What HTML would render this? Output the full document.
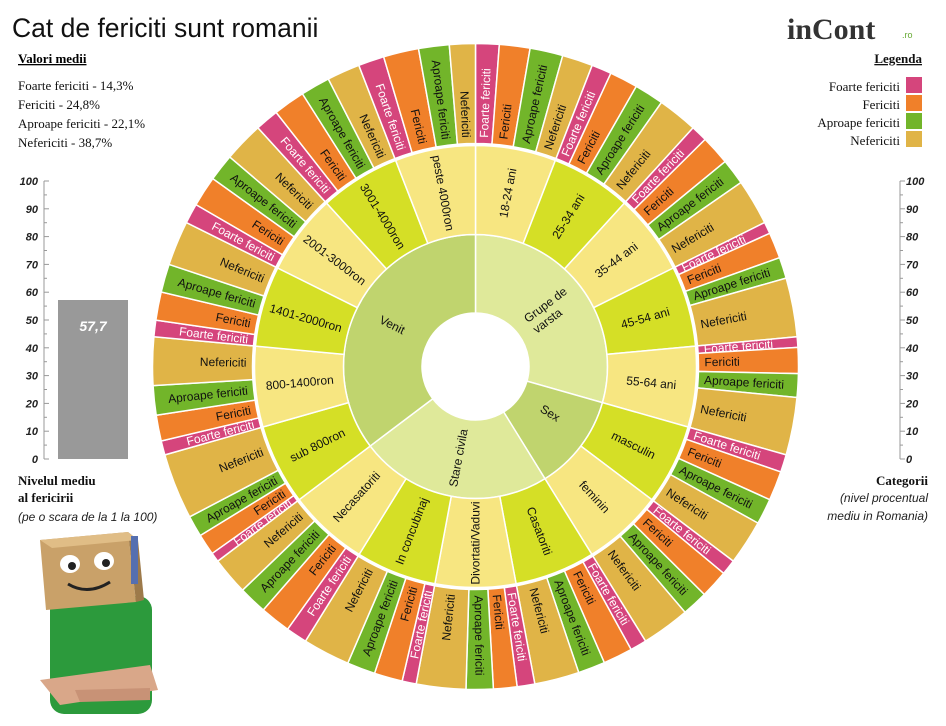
<!DOCTYPE html>
<html><head><meta charset="utf-8">
<style>
body{margin:0;background:#fff;width:946px;height:721px;overflow:hidden;font-family:"Liberation Serif",serif;}
</style></head>
<body>
<svg id="s" width="946" height="721" xmlns="http://www.w3.org/2000/svg" font-family="Liberation Sans, sans-serif">
<text x="12" y="37" font-size="26.5" fill="#111">Cat de fericiti sunt romanii</text>
<text x="18" y="63" font-size="13" font-weight="bold" font-family="Liberation Serif, serif" text-decoration="underline">Valori medii</text>
<g font-family="Liberation Serif, serif" font-size="13" fill="#111">
<text x="18" y="90">Foarte fericiti - 14,3%</text>
<text x="18" y="109">Fericiti - 24,8%</text>
<text x="18" y="128">Aproape fericiti - 22,1%</text>
<text x="18" y="147">Nefericiti - 38,7%</text>
<text x="922" y="63" font-weight="bold" text-anchor="end" text-decoration="underline">Legenda</text>
<text x="900" y="91" text-anchor="end">Foarte fericiti</text>
<text x="900" y="109" text-anchor="end">Fericiti</text>
<text x="900" y="127" text-anchor="end">Aproape fericiti</text>
<text x="900" y="145" text-anchor="end">Nefericiti</text>
<text x="18" y="485" font-weight="bold">Nivelul mediu</text>
<text x="18" y="502" font-weight="bold">al fericirii</text>
<text x="928" y="485" font-weight="bold" text-anchor="end">Categorii</text>
</g>
<g font-family="Liberation Sans, sans-serif" font-size="12" font-style="italic" fill="#222">
<text x="18" y="521">(pe o scara de la 1 la 100)</text>
<text x="928" y="502" text-anchor="end">(nivel procentual</text>
<text x="928" y="520" text-anchor="end">mediu in Romania)</text>
</g>
<rect x="906" y="77" width="16" height="16" fill="#d5457c"/>
<rect x="906" y="95" width="16" height="16" fill="#f0802a"/>
<rect x="906" y="113" width="16" height="16" fill="#72b52a"/>
<rect x="906" y="131" width="16" height="16" fill="#e0b447"/>
<text x="787" y="39" font-size="30" font-weight="bold" font-family="Liberation Serif, serif" fill="#333">inCont</text>
<text x="902" y="38" font-size="9" fill="#6a3">.ro</text>
<rect x="58" y="300" width="70" height="159" fill="#999"/>
<text x="93" y="331" text-anchor="middle" font-size="14" font-weight="bold" font-style="italic" fill="#fff">57,7</text>
<g id="axes"></g>
<g>
<rect x="50" y="596" width="102" height="118" rx="14" fill="#2c9a3c"/>
<path d="M40 680 L150 665 L158 690 L60 705 Z" fill="#d9a789"/>
<path d="M75 690 L150 688 L150 700 L80 702Z" fill="#c89276"/>
<path d="M40 540 L128 532 L136 602 L46 610 Z" fill="#c9a169"/>
<path d="M128 532 L138 540 L144 600 L136 602 Z" fill="#9d7a4a"/>
<path d="M40 540 L128 532 L138 540 L52 548Z" fill="#e0bd86"/>
<ellipse cx="70" cy="564" rx="10" ry="9" fill="#fff"/><circle cx="72" cy="566" r="4" fill="#222"/>
<ellipse cx="104" cy="561" rx="10" ry="9" fill="#fff"/><circle cx="106" cy="563" r="4" fill="#222"/>
<path d="M68 584 Q88 596 110 582" stroke="#222" stroke-width="3" fill="none"/>
<rect x="131" y="536" width="7" height="48" fill="#556fb0"/>
</g>
<g id="sun"></g>
</svg>
<script>
var NS="http://www.w3.org/2000/svg";
function el(t,a,p,txt){var e=document.createElementNS(NS,t);for(var k in a)e.setAttribute(k,a[k]);if(txt!==undefined)e.textContent=txt;(p||document.getElementById('sun')).appendChild(e);return e;}
var ax=document.getElementById('axes');
for(var i=0;i<=20;i++){var y=459-i*13.9;
 el('line',{x1:44,x2:i%2?47:49,y1:y,y2:y,stroke:'#999','stroke-width':1},ax);
 el('line',{x1:900,x2:i%2?903:905,y1:y,y2:y,stroke:'#999','stroke-width':1},ax);
 if(i%2==0){el('text',{x:38,y:y+4,'text-anchor':'end','font-size':11,'font-style':'italic','font-weight':'bold',fill:'#222'},ax,String(i*5));
 el('text',{x:906,y:y+4,'font-size':11,'font-style':'italic','font-weight':'bold',fill:'#222'},ax,String(i*5));}}
el('line',{x1:44,x2:44,y1:181,y2:459,stroke:'#999'},ax);
el('line',{x1:900,x2:900,y1:181,y2:459,stroke:'#999'},ax);

var cx=475.5,cy=366.5,R0=53.5,R1=132,R2=221,R3=323;
function pt(r,a){var d=a*Math.PI/180;return [cx+r*Math.sin(d),cy-r*Math.cos(d)];}
function arc(r0,r1,a0,a1){var p1=pt(r1,a0),p2=pt(r1,a1),p3=pt(r0,a1),p4=pt(r0,a0),l=(a1-a0)>180?1:0;
 return 'M'+p1+' A'+r1+','+r1+' 0 '+l+' 1 '+p2+' L'+p3+' A'+r0+','+r0+' 0 '+l+' 0 '+p4+'Z';}
function lab(t,r,a,anchor,size,fill){var p=pt(r,a);var rot=a<180?a-90:a+90;
 if(a>=180&&anchor=='start')anchor='end';
 return el('text',{x:p[0],y:p[1],transform:'rotate('+rot+' '+p[0]+' '+p[1]+')','text-anchor':anchor,'dominant-baseline':'central','font-size':size,fill:fill},null,t);}
var subs=[["18-24 ani",[20,26,28,26]],["25-34 ani",[17,24,25,34]],["35-44 ani",[14,25,22,39]],["45-54 ani",[10,22,18,50]],["55-64 ani",[9,22,20,49]],
["masculin",[15,25,22,38]],["feminin",[13,24,22,41]],
["Casatoriti",[14,25,23,38]],["Divortati/Vaduvi",[15,20,23,42]],["In concubinaj",[12,24,24,40]],["Necasatoriti",[18,26,24,32]],
["sub 800ron",[8,18,18,56]],["800-1400ron",[12,22,25,41]],["1401-2000ron",[14,24,24,38]],["2001-3000ron",[17,26,23,34]],["3001-4000ron",[20,27,25,28]],["peste 4000ron",[22,30,26,22]]];
var w=360/17;
var cols=['#d5457c','#f0802a','#72b52a','#e0b447'],names=['Foarte fericiti','Fericiti','Aproape fericiti','Nefericiti'],tc=['#fff','#111','#111','#111'];
var cats=[["Grupe de varsta",0,5,'#dfe99a'],["Sex",5,7,'#c0d46e'],["Stare civila",7,11,'#dfe99a'],["Venit",11,17,'#c0d46e']];
cats.forEach(function(c){var a0=c[1]*w,a1=c[2]*w;el('path',{d:arc(R0,R1,a0,a1),fill:c[3],stroke:'#fff','stroke-width':1.5});});
cats.forEach(function(c){var am=(c[1]+c[2])*w/2;
 if(c[0]=="Grupe de varsta"){var p=pt(93,am),rot=am-90;var t=el('text',{transform:'rotate('+rot+' '+p[0]+' '+p[1]+')','text-anchor':'middle','font-size':12,fill:'#111'});
  el('tspan',{x:p[0],y:p[1]-3},t,'Grupe de');el('tspan',{x:p[0]-8,y:p[1]+11},t,'varsta');}
 else if(c[0]=="Sex"){lab('Sex',88,am-5,'middle',12,'#111');}
 else lab(c[0],93,am,'middle',12,'#111');});
subs.forEach(function(s,i){var a0=i*w,a1=(i+1)*w;
 el('path',{d:arc(R1,R2,a0,a1),fill:i%2?'#d5df26':'#f7e681',stroke:'#fff','stroke-width':1.5});
 lab(s[0],(R1+R2)/2,(a0+a1)/2,'middle',12,'#111');
 var v=s[1],tot=v[0]+v[1]+v[2]+v[3],a=a0;
 for(var k=0;k<4;k++){var b=a+w*v[k]/tot;
  el('path',{d:arc(R2+2,R3,a,b),fill:cols[k],stroke:'#fff','stroke-width':1.5});
  lab(names[k],R2+8,(a+b)/2,'start',12,tc[k]);a=b;}
});
</script>
</body></html>
